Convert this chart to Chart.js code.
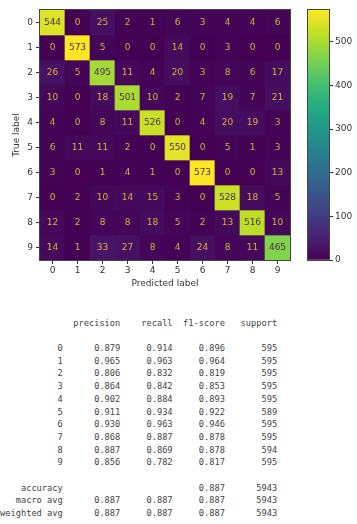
<!DOCTYPE html>
<html>
<head>
<meta charset="utf-8">
<script src="https://cdn.jsdelivr.net/npm/chart.js@4/dist/chart.umd.min.js"></script>
<style>
  html, body { margin: 0; padding: 0; background: #ffffff; }
  body { width: 357px; height: 524px; position: relative; overflow: hidden; }
  #matrix { position: absolute; left: 0; top: 0; }
  #colorbar { position: absolute; left: 300px; top: 0; }
  #report {
    position: absolute; left: 0; top: 316.6px; margin: 0;
    font-family: "DejaVu Sans Mono", monospace; font-size: 8.7px; line-height: 12.7px;
    color: #444;
  }
</style>
</head>
<body>
<canvas id="matrix" width="300" height="295"></canvas>
<canvas id="colorbar" width="57" height="270"></canvas>
<pre id="report"></pre>
<script>
// ---- data ----
const predictedLabels = ['0','1','2','3','4','5','6','7','8','9'];
const trueLabels = ['0','1','2','3','4','5','6','7','8','9'];
const row0 = [544, 0, 25, 2, 1, 6, 3, 4, 4, 6];
const row1 = [0, 573, 5, 0, 0, 14, 0, 3, 0, 0];
const row2 = [26, 5, 495, 11, 4, 20, 3, 8, 6, 17];
const row3 = [10, 0, 18, 501, 10, 2, 7, 19, 7, 21];
const row4 = [4, 0, 8, 11, 526, 0, 4, 20, 19, 3];
const row5 = [6, 11, 11, 2, 0, 550, 0, 5, 1, 3];
const row6 = [3, 0, 1, 4, 1, 0, 573, 0, 0, 13];
const row7 = [0, 2, 10, 14, 15, 3, 0, 528, 18, 5];
const row8 = [12, 2, 8, 8, 18, 5, 2, 13, 516, 10];
const row9 = [14, 1, 33, 27, 8, 4, 24, 8, 11, 465];
const matrixRows = [row0, row1, row2, row3, row4, row5, row6, row7, row8, row9];
const colorbarTicks = [0, 100, 200, 300, 400, 500];

const reportClasses = ['0','1','2','3','4','5','6','7','8','9'];
const precision = [0.879, 0.965, 0.806, 0.864, 0.902, 0.911, 0.930, 0.868, 0.887, 0.856];
const recall    = [0.914, 0.963, 0.832, 0.842, 0.884, 0.934, 0.963, 0.887, 0.869, 0.782];
const f1score   = [0.896, 0.964, 0.819, 0.853, 0.893, 0.922, 0.946, 0.878, 0.878, 0.817];
const support   = [595, 595, 595, 595, 595, 589, 595, 595, 594, 595];
const accuracy = 0.887;
const accuracySupport = 5943;
const macroAvg = [0.887, 0.887, 0.887, 5943];
const weightedAvg = [0.887, 0.887, 0.887, 5943];

// ---- viridis colormap ----
const viridisStops = ['#440154','#482475','#414487','#355f8d','#2a788e','#21918c','#22a884','#44bf70','#7ad151','#bddf26','#fde725'];
function hexToRgb(h){ return [parseInt(h.slice(1,3),16), parseInt(h.slice(3,5),16), parseInt(h.slice(5,7),16)]; }
function viridis(t){
  t = Math.max(0, Math.min(1, t));
  const p = t * (viridisStops.length - 1);
  const i = Math.min(Math.floor(p), viridisStops.length - 2);
  const f = p - i;
  const a = hexToRgb(viridisStops[i]), b = hexToRgb(viridisStops[i+1]);
  const c = a.map((v,k) => Math.round(v + (b[k]-v)*f));
  return 'rgb(' + c.join(',') + ')';
}
const vmin = 0;
const vmax = Math.max(...matrixRows.flat());
const thresh = (vmax + vmin) / 2;

const FONT = '"DejaVu Sans", sans-serif';
const AXIS_COLOR = '#333';

const framePlugin = {
  id: 'frame',
  afterDraw(chart) {
    const a = chart.chartArea, c = chart.ctx;
    c.save();
    c.strokeStyle = '#444';
    c.lineWidth = 1;
    c.strokeRect(a.left - 0.5, a.top - 0.5, a.right - a.left + 1, a.bottom - a.top + 1);
    c.restore();
  }
};

const cellTextPlugin = {
  id: 'cellText',
  afterDatasetsDraw(chart) {
    const xs = chart.scales.x, ys = chart.scales.y, c = chart.ctx;
    c.save();
    c.font = '9px ' + FONT;
    c.textAlign = 'center';
    c.textBaseline = 'middle';
    matrixRows.forEach((row, r) => {
      row.forEach((v, col) => {
        c.fillStyle = v > thresh ? '#4a3050' : '#dcae3c';
        c.fillText(String(v), xs.getPixelForValue(col), ys.getPixelForValue(r) + 0.5);
      });
    });
    c.restore();
  }
};

new Chart(document.getElementById('matrix'), {
  type: 'bar',
  data: {
    labels: predictedLabels,
    datasets: matrixRows.map((row, r) => ({
      data: predictedLabels.map(() => [r - 0.5, r + 0.5]),
      backgroundColor: row.map(v => viridis((v - vmin) / (vmax - vmin))),
      borderWidth: 0,
      grouped: false,
      barPercentage: 1,
      categoryPercentage: 1
    }))
  },
  options: {
    responsive: false,
    animation: false,
    layout: { padding: { top: 10, right: 10, left: 0, bottom: 0 } },
    plugins: { legend: { display: false }, tooltip: { enabled: false } },
    scales: {
      x: {
        type: 'category',
        afterFit(s) { s.height = 35; },
        grid: { offset: false, drawOnChartArea: false, drawTicks: true, tickLength: 4, color: AXIS_COLOR, tickWidth: 1 },
        border: { display: false },
        ticks: { color: AXIS_COLOR, font: { family: FONT, size: 9 }, padding: 1, maxRotation: 0 },
        title: { display: true, text: 'Predicted label', color: AXIS_COLOR, font: { family: FONT, size: 9 }, padding: { top: 0, bottom: 6 } }
      },
      y: {
        type: 'linear',
        min: -0.5, max: 9.5, reverse: true,
        afterFit(s) { s.width = 40; },
        afterBuildTicks(s) { s.ticks = trueLabels.map((_, i) => ({ value: i })); },
        grid: { drawOnChartArea: false, drawTicks: true, tickLength: 4, color: AXIS_COLOR },
        border: { display: false },
        ticks: { color: AXIS_COLOR, font: { family: FONT, size: 9 }, padding: 3, callback: v => trueLabels[v] },
        title: { display: true, text: 'True label', color: AXIS_COLOR, font: { family: FONT, size: 9 }, padding: { top: 11, bottom: 0 } }
      }
    }
  },
  plugins: [cellTextPlugin, framePlugin]
});

new Chart(document.getElementById('colorbar'), {
  type: 'bar',
  data: {
    labels: [''],
    datasets: [{
      data: [[vmin, vmax]],
      borderWidth: 0,
      barPercentage: 1,
      categoryPercentage: 1,
      backgroundColor(ctx) {
        const area = ctx.chart.chartArea;
        if (!area) return '#440154';
        const g = ctx.chart.ctx.createLinearGradient(0, area.bottom, 0, area.top);
        viridisStops.forEach((col, i) => g.addColorStop(i / (viridisStops.length - 1), col));
        return g;
      }
    }]
  },
  options: {
    responsive: false,
    animation: false,
    layout: { padding: { top: 10, bottom: 10, left: 8, right: 0 } },
    plugins: { legend: { display: false }, tooltip: { enabled: false } },
    scales: {
      x: { display: false },
      y: {
        position: 'right',
        min: vmin, max: vmax,
        afterFit(s) { s.width = 28; },
        afterBuildTicks(s) { s.ticks = colorbarTicks.map(v => ({ value: v })); },
        grid: { drawOnChartArea: false, drawTicks: true, tickLength: 4, color: AXIS_COLOR },
        border: { display: false },
        ticks: { color: AXIS_COLOR, font: { family: FONT, size: 9 }, padding: 2 }
      }
    }
  },
  plugins: [framePlugin]
});

// ---- classification report text ----
const W = 12;
const pad = (s, n) => String(s).padStart(n, ' ');
const fmt = v => v.toFixed(3);
let txt = pad('', W) + ' ' + ' ' + pad('precision', 9) + ' ' + pad('recall', 9) + ' ' + pad('f1-score', 9) + ' ' + pad('support', 9) + '\n\n';
reportClasses.forEach((c, i) => {
  txt += pad(c, W) + ' ' + ' ' + pad(fmt(precision[i]), 9) + ' ' + pad(fmt(recall[i]), 9) + ' ' + pad(fmt(f1score[i]), 9) + ' ' + pad(support[i], 9) + '\n';
});
txt += '\n';
txt += pad('accuracy', W) + ' ' + ' ' + pad('', 9) + ' ' + pad('', 9) + ' ' + pad(fmt(accuracy), 9) + ' ' + pad(accuracySupport, 9) + '\n';
txt += pad('macro avg', W) + ' ' + ' ' + pad(fmt(macroAvg[0]), 9) + ' ' + pad(fmt(macroAvg[1]), 9) + ' ' + pad(fmt(macroAvg[2]), 9) + ' ' + pad(macroAvg[3], 9) + '\n';
txt += pad('weighted avg', W) + ' ' + ' ' + pad(fmt(weightedAvg[0]), 9) + ' ' + pad(fmt(weightedAvg[1]), 9) + ' ' + pad(fmt(weightedAvg[2]), 9) + ' ' + pad(weightedAvg[3], 9);
document.getElementById('report').textContent = txt;
</script>
</body>
</html>
